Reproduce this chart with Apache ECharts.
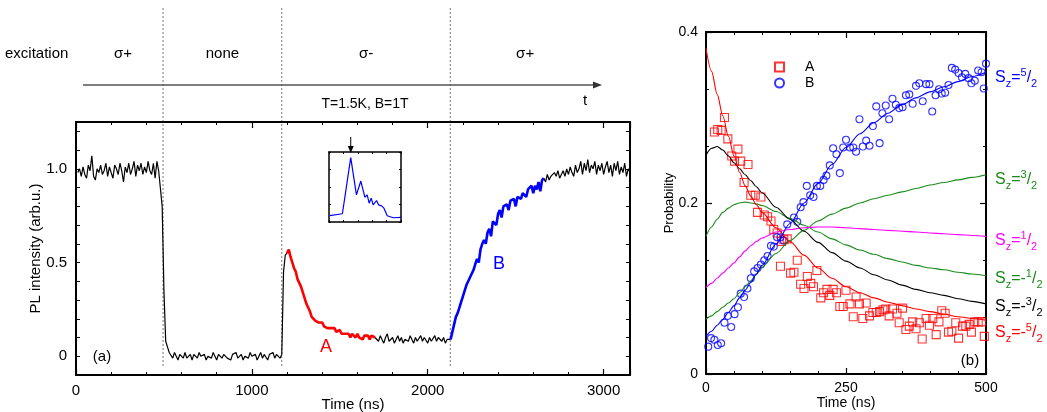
<!DOCTYPE html>
<html><head><meta charset="utf-8">
<script src="https://cdn.jsdelivr.net/npm/echarts@6/dist/echarts.min.js"></script>
<style>html,body{margin:0;padding:0;background:#fff}#c{width:1047px;height:412px}</style>
</head><body><div id="c"></div>
<script>
const FONT = '"Liberation Sans", Arial, Helvetica, sans-serif';

// ---------- Panel (a): PL trace, sampled every 10 ns ----------
const traceStepNs = 10;
const traceBeforeStart = 10;
const traceBefore = [
  0.98,1.00,0.96,1.01,0.97,0.95,1.02,0.99,1.07,0.96,
  0.94,1.00,0.98,1.02,0.97,0.99,1.03,0.96,1.01,0.98,
  0.95,1.02,1.00,0.97,1.03,0.99,0.93,1.01,0.98,1.03,
  0.97,1.00,1.04,0.96,1.02,0.99,1.03,0.97,1.01,0.98,
  1.04,0.99,0.97,1.03,0.95,1.04,0.99,
  1.00,0.80,0.35,0.08,0.05,0.02,
  0.01,-0.01,0.02,0.00,-0.02,0.01,0.00,-0.01,0.02,-0.01,
  0.00,0.01,-0.02,0.01,0.00,-0.01,0.02,0.00,-0.01,0.01,
  -0.02,0.00,0.01,-0.01,0.02,0.00,-0.02,0.01,0.00,-0.01,
  0.01,0.02,-0.01,0.00,-0.02,0.01,0.00,0.02,-0.01,0.00,
  0.01,-0.02,0.00,0.01,-0.01,0.02,0.00,-0.01,0.01,-0.02,
  0.00,0.02,-0.01,0.01,0.00,-0.02,0.01,0.00,0.02,-0.01,
  0.01,0.00,-0.01,0.01,
  0.45,0.54,0.55
];
const traceAStart = 1200;
const traceA = [
  0.55,
  0.57,0.53,0.50,0.47,0.45,0.41,0.40,0.37,0.34,0.31,
  0.28,0.26,0.24,0.21,0.22,0.19,0.20,0.18,0.17,0.18,
  0.16,0.17,0.15,0.16,0.15,0.14,0.15,0.13,0.14,0.14,
  0.12,0.13,0.12,0.11,0.12,0.10,0.12,0.11,0.10,0.12,
  0.10,0.11,0.09,0.11,0.10,0.11,0.09,0.11,0.10,0.10
];
const traceMidStart = 1700;
const traceMid = [
  0.10,
  0.10,0.08,0.11,0.09,0.07,0.10,0.12,0.08,0.09,0.10,
  0.07,0.09,0.11,0.08,0.10,0.07,0.09,0.10,0.08,0.11,
  0.09,0.07,0.10,0.08,0.09,0.11,0.08,0.10,0.09,0.07,
  0.10,0.08,0.09,0.11,0.08,0.10,0.09,0.08,0.10,0.07,
  0.09,0.08,0.09
];
const traceBStart = 2130;
const traceB = [
  0.09,
  0.13,0.17,0.21,0.23,0.26,0.29,0.32,0.35,0.38,0.40,
  0.42,0.43,0.46,0.49,0.52,0.50,0.57,0.60,0.62,0.60,
  0.66,0.68,0.64,0.72,0.73,0.70,0.76,0.78,0.74,0.80,
  0.79,0.81,0.78,0.83,0.82,0.84,0.80,0.85,0.86,0.84,
  0.87,0.88,0.85,0.89,0.88,0.91,0.87,0.91,0.89,0.93,
  0.88,0.94,0.95
];
const traceAfterStart = 2660;
const traceAfter = [
  0.95,
  0.93,0.97,0.94,0.96,0.95,0.98,0.96,0.99,0.95,0.97,
  0.99,0.96,1.00,0.97,1.01,0.98,0.96,1.02,0.98,1.00,
  1.04,0.97,1.03,0.99,1.05,0.98,1.02,1.00,1.04,0.97,
  1.02,0.99,1.03,0.97,1.01,1.04,0.98,1.02,0.96,1.03,
  0.99,1.04,0.97,1.01,0.98,1.03,0.96,1.00,0.98
];
const excitationSwitchNs = [495, 1170, 2128];
const excitationLabels = ['\u03c3+', 'none', '\u03c3-', '\u03c3+'];

// inset (relative units)
const insetX = [0.9,18.6,24.2,30.2,34.4,38.1,44.2,49.8,53,55.8,58.6,61.4,66,68.8,73,76.3,80.9,89.3,100];
const insetY = [0.09,0.118,0.505,0.92,0.637,0.387,0.585,0.354,0.387,0.269,0.34,0.245,0.307,0.245,0.231,0.198,0.09,0.061,0.066];
const insetPeakX = 30.2;

// ---------- Panel (b): probabilities ----------
const probA = [
  [15,0.283],[21,0.286],[27,0.285],[33,0.300],[39,0.275],[46,0.255],[51,0.249],[57,0.263],[62,0.249],[68,0.224],
  [75,0.245],[80,0.209],[88,0.209],[92,0.189],[98,0.207],[104,0.186],[110,0.184],[116,0.179],[121,0.169],[127,0.165],
  [133,0.126],[135,0.155],[139,0.157],[145,0.158],[151,0.118],[157,0.119],[163,0.133],[169,0.105],[175,0.100],[181,0.114],
  [187,0.106],[192,0.102],[198,0.121],[205,0.089],[210,0.095],[216,0.099],[221,0.092],[227,0.099],[233,0.095],[239,0.079],
  [245,0.079],[250,0.098],[257,0.082],[263,0.067],[268,0.090],[274,0.082],[280,0.065],[286,0.083],[292,0.068],[298,0.072],
  [304,0.072],[310,0.073],[316,0.075],[321,0.076],[327,0.068],[333,0.076],[341,0.071],[345,0.060],[351,0.077],[357,0.052],
  [363,0.056],[369,0.061],[375,0.053],[381,0.060],[386,0.041],[393,0.065],[399,0.057],[405,0.065],[411,0.046],[416,0.061],
  [421,0.074],[427,0.071],[433,0.049],[439,0.050],[446,0.060],[451,0.042],[458,0.056],[464,0.056],[470,0.058],[474,0.049],
  [480,0.061],[486,0.061],[492,0.061],[497,0.044]
];
const probB = [
  [4,0.032],[9,0.042],[15,0.040],[21,0.034],[27,0.036],[33,0.060],[39,0.068],[45,0.055],[51,0.070],[57,0.078],
  [62,0.094],[68,0.090],[74,0.100],[80,0.112],[86,0.120],[92,0.124],[98,0.128],[104,0.133],[110,0.138],[116,0.150],
  [121,0.149],[127,0.160],[133,0.160],[139,0.156],[145,0.175],[157,0.183],[163,0.178],[169,0.195],[174,0.201],[180,0.220],
  [186,0.209],[192,0.207],[198,0.220],[204,0.220],[210,0.227],[215,0.232],[221,0.244],[227,0.264],[233,0.257],[239,0.235],
  [245,0.265],[250,0.274],[257,0.265],[263,0.265],[268,0.260],[274,0.298],[280,0.266],[286,0.273],[292,0.267],[298,0.290],
  [304,0.313],[310,0.270],[315,0.305],[321,0.314],[327,0.298],[333,0.322],[339,0.315],[345,0.311],[351,0.312],[357,0.326],
  [363,0.327],[369,0.316],[375,0.337],[381,0.340],[387,0.319],[393,0.339],[399,0.339],[404,0.307],[410,0.326],[416,0.333],
  [421,0.328],[427,0.329],[433,0.338],[439,0.358],[445,0.356],[451,0.352],[457,0.347],[463,0.351],[469,0.346],[474,0.340],
  [480,0.343],[486,0.355],[492,0.353],[496,0.334],[500,0.363]
];
const fitTimes = [0,10,20,30,40,50,60,70,80,90,100,125,150,175,200,225,250,275,300,325,350,375,400,425,450,475,500];
const fitSz52  = [0.044,0.050,0.057,0.064,0.072,0.080,0.089,0.098,0.107,0.117,0.127,0.152,0.176,0.200,0.223,0.245,0.265,0.281,0.294,0.305,0.315,0.323,0.330,0.336,0.342,0.348,0.353];
const fitSz32  = [0.064,0.068,0.073,0.078,0.083,0.088,0.095,0.102,0.109,0.117,0.125,0.141,0.156,0.168,0.179,0.187,0.194,0.200,0.205,0.209,0.213,0.217,0.221,0.224,0.227,0.230,0.233];
const fitSz12  = [0.101,0.106,0.112,0.118,0.124,0.130,0.137,0.144,0.150,0.155,0.159,0.166,0.169,0.171,0.172,0.172,0.171,0.170,0.169,0.168,0.167,0.166,0.165,0.164,0.163,0.162,0.161];
const fitSzm12 = [0.161,0.172,0.181,0.189,0.194,0.198,0.200,0.201,0.200,0.199,0.197,0.190,0.182,0.174,0.166,0.158,0.151,0.145,0.140,0.135,0.131,0.127,0.124,0.122,0.119,0.117,0.115];
const fitSzm32 = [0.256,0.264,0.266,0.262,0.255,0.247,0.240,0.233,0.226,0.219,0.212,0.195,0.181,0.167,0.154,0.142,0.132,0.124,0.116,0.110,0.104,0.099,0.095,0.092,0.088,0.085,0.082];
const fitSzm52 = [0.381,0.354,0.327,0.302,0.278,0.255,0.236,0.220,0.208,0.198,0.189,0.171,0.155,0.139,0.124,0.112,0.102,0.095,0.089,0.084,0.080,0.076,0.073,0.070,0.067,0.065,0.063];

// ---------- helpers ----------
const pairs = (start, arr) => arr.map((v, i) => [start + i * traceStepNs, v]);
const zipT = (ts, vs) => ts.map((t, i) => [t, vs[i]]);

const RED = '#ff0000', BLUE = '#0000ff', GREEN = '#1a8a1a', MAG = '#ff00ff';

function axisBase(extra) {
  return Object.assign({
    type: 'value',
    axisLine: { show: true, onZero: false, lineStyle: { color: '#000', width: 2 } },
    axisTick: { show: true, inside: true, length: 4, lineStyle: { color: '#000', width: 1 } },
    minorTick: { show: false },
    splitLine: { show: false },
    minorSplitLine: { show: false },
    nameMoveOverlap: false,
    axisLabel: { color: '#000', fontFamily: FONT, fontSize: 15, margin: 8 }
  }, extra);
}
const majTick = { show: true, inside: true, length: 6, lineStyle: { color: '#000', width: 1.2 } };
const minTick = n => ({ show: true, splitNumber: n, length: 3, lineStyle: { color: '#000', width: 1 } });

const chart = echarts.init(document.getElementById('c'), null, { renderer: 'canvas' });

const yaFmt = v => { const r = Math.round(v * 100) / 100; return r === 1 ? '1.0' : r === 0.5 ? '0.5' : r === 0 ? '0' : ''; };
const ybFmt = v => { const r = Math.round(v * 1000) / 1000; return r === 0 ? '0' : r === 0.2 ? '0.2' : r === 0.4 ? '0.4' : ''; };

const lineS = (xi, yi, data, color, w, smooth) => ({
  type: 'line', xAxisIndex: xi, yAxisIndex: yi, data: data, showSymbol: false, symbol: 'none',
  smooth: smooth || false, smoothMonotone: smooth ? 'x' : undefined,
  lineStyle: { color: color, width: w }, itemStyle: { color: color }, silent: true, animation: false
});

const inAxis = { show: true, onZero: false, lineStyle: { color: '#000', width: 1.5 } };
const inTick = { show: true, inside: true, length: 2, lineStyle: { color: '#000', width: 1 } };

const option = {
  animation: false,
  backgroundColor: '#fff',
  textStyle: { fontFamily: FONT },
  grid: [
    { left: 76, top: 122, width: 554, height: 253, outerBoundsMode: 'none', containLabel: false },
    { left: 706, top: 32, width: 280, height: 342, outerBoundsMode: 'none', containLabel: false },
    { left: 329, top: 152, width: 72, height: 70, outerBoundsMode: 'none', containLabel: false }
  ],
  xAxis: [
    axisBase({ gridIndex: 0, position: 'bottom', min: 0, max: 3150, interval: 1000,
      axisTick: majTick, minorTick: minTick(5),
      axisLabel: { color: '#000', fontFamily: FONT, fontSize: 15, margin: 8, formatter: v => (v % 1000 === 0 ? String(v) : '') },
      name: 'Time (ns)', nameLocation: 'middle', nameGap: 22, nameTextStyle: { color: '#000', fontFamily: FONT, fontSize: 15 } }),
    axisBase({ gridIndex: 0, position: 'top', min: 0, max: 3150, interval: 1000, axisTick: majTick, minorTick: minTick(5), axisLabel: { show: false } }),
    axisBase({ gridIndex: 1, position: 'bottom', min: 0, max: 500, interval: 250,
      axisTick: majTick, minorTick: minTick(5),
      axisLabel: { color: '#000', fontFamily: FONT, fontSize: 14, margin: 7 },
      name: 'Time (ns)', nameLocation: 'middle', nameGap: 22, nameTextStyle: { color: '#000', fontFamily: FONT, fontSize: 14 } }),
    axisBase({ gridIndex: 1, position: 'top', min: 0, max: 500, interval: 250, axisTick: majTick, minorTick: minTick(5), axisLabel: { show: false } }),
    axisBase({ gridIndex: 2, position: 'bottom', min: 0, max: 100, interval: 20, axisLabel: { show: false }, axisLine: inAxis, axisTick: inTick }),
    axisBase({ gridIndex: 2, position: 'top', min: 0, max: 100, interval: 20, axisLabel: { show: false }, axisLine: inAxis, axisTick: inTick })
  ],
  yAxis: [
    axisBase({ gridIndex: 0, position: 'left', min: -0.1, max: 1.25, interval: 0.1,
      axisLabel: { color: '#000', fontFamily: FONT, fontSize: 15, margin: 9, formatter: yaFmt },
      name: 'PL intensity (arb.u.)', nameLocation: 'middle', nameGap: 33, nameRotate: 90,
      nameTextStyle: { color: '#000', fontFamily: FONT, fontSize: 15 } }),
    axisBase({ gridIndex: 0, position: 'right', min: -0.1, max: 1.25, interval: 0.1, axisLabel: { show: false } }),
    axisBase({ gridIndex: 1, position: 'left', min: 0, max: 0.4, interval: 0.2,
      axisTick: majTick, minorTick: minTick(3),
      axisLabel: { color: '#000', fontFamily: FONT, fontSize: 14, margin: 8, formatter: ybFmt },
      name: 'Probability', nameLocation: 'middle', nameGap: 30, nameRotate: 90,
      nameTextStyle: { color: '#000', fontFamily: FONT, fontSize: 13 } }),
    axisBase({ gridIndex: 1, position: 'right', min: 0, max: 0.4, interval: 0.2, axisTick: majTick, minorTick: minTick(3), axisLabel: { show: false } }),
    axisBase({ gridIndex: 2, position: 'left', min: 0, max: 1, interval: 0.25, axisLabel: { show: false }, axisLine: inAxis, axisTick: inTick }),
    axisBase({ gridIndex: 2, position: 'right', min: 0, max: 1, interval: 0.25, axisLabel: { show: false }, axisLine: inAxis, axisTick: inTick })
  ],
  legend: {
    left: 769, top: 55, orient: 'vertical', itemWidth: 9, itemHeight: 9, itemGap: 2,
    data: ['A', 'B'],
    textStyle: { color: '#000', fontFamily: FONT, fontSize: 14, padding: [0, 0, 0, 16] }
  },
  series: [
    lineS(0, 0, pairs(traceBeforeStart, traceBefore), '#000', 1.2),
    lineS(0, 0, pairs(traceMidStart, traceMid), '#000', 1.2),
    lineS(0, 0, pairs(traceAfterStart, traceAfter), '#000', 1.2),
    lineS(0, 0, pairs(traceAStart, traceA), RED, 2.6),
    lineS(0, 0, pairs(traceBStart, traceB), BLUE, 2.6),
    lineS(4, 4, zipT(insetX, insetY), BLUE, 1.2),
    lineS(2, 2, zipT(fitTimes, fitSz32), GREEN, 1.1, 0.3),
    lineS(2, 2, zipT(fitTimes, fitSzm12), GREEN, 1.1, 0.3),
    lineS(2, 2, zipT(fitTimes, fitSz12), MAG, 1.1, 0.3),
    lineS(2, 2, zipT(fitTimes, fitSzm32), '#000', 1.1, 0.3),
    {
      name: 'A', type: 'scatter', xAxisIndex: 2, yAxisIndex: 2, data: probA, symbol: 'rect', symbolSize: 8,
      itemStyle: { color: 'rgba(255,255,255,0)', borderColor: RED, borderWidth: 1.1 }, silent: true
    },
    {
      name: 'B', type: 'scatter', xAxisIndex: 2, yAxisIndex: 2, data: probB, symbol: 'circle', symbolSize: 7,
      itemStyle: { color: 'rgba(255,255,255,0)', borderColor: BLUE, borderWidth: 1.1 }, silent: true
    },
    lineS(2, 2, zipT(fitTimes, fitSzm52), RED, 1.1, 0.3),
    lineS(2, 2, zipT(fitTimes, fitSz52), BLUE, 1.1, 0.3)
  ]
};
chart.setOption(option);

// ---------- annotations ----------
const g = [];
const txt = (x, y, s, opt) => Object.assign({ type: 'text', x: x, y: y, silent: true,
  style: Object.assign({ text: s, fill: '#000', font: '15px ' + FONT, textAlign: 'center', textVerticalAlign: 'middle' }, opt || {}) });

// dashed switching lines
const swX = excitationSwitchNs.map(t => chart.convertToPixel({ xAxisIndex: 0 }, t));
swX.forEach(x => g.push({ type: 'line', silent: true, shape: { x1: x, y1: 8, x2: x, y2: 366 },
  style: { stroke: '#777', lineWidth: 1, lineDash: [2, 2] } }));

// excitation row
g.push(txt(5, 54, 'excitation', { textAlign: 'left' }));
const bounds = [83].concat(swX).concat([600]);
excitationLabels.forEach((s, i) => g.push(txt((bounds[i] + bounds[i + 1]) / 2, 54, s)));
g.push({ type: 'line', silent: true, shape: { x1: 83, y1: 85, x2: 596, y2: 85 }, style: { stroke: '#555', lineWidth: 1.5 } });
g.push({ type: 'polygon', silent: true, shape: { points: [[602, 85], [593, 81.5], [593, 88.5]] }, style: { fill: '#333' } });
g.push(txt(585, 101, 't'));
g.push(txt(365, 104, 'T=1.5K, B=1T', { font: '14px ' + FONT }));

// panel (a) labels
g.push(txt(102, 357, '(a)'));
g.push(txt(326, 347, 'A', { fill: RED, font: '18px ' + FONT }));
g.push(txt(499, 264, 'B', { fill: BLUE, font: '18px ' + FONT }));

// inset arrow
const ax = chart.convertToPixel({ xAxisIndex: 4 }, insetPeakX);
g.push({ type: 'line', silent: true, shape: { x1: ax, y1: 137, x2: ax, y2: 147 }, style: { stroke: '#000', lineWidth: 1 } });
g.push({ type: 'polygon', silent: true, shape: { points: [[ax, 153], [ax - 3, 146], [ax + 3, 146]] }, style: { fill: '#000' } });

// panel (b) labels
g.push(txt(970, 361, '(b)'));
const szLabels = [
  ['', '5', 78, BLUE], ['', '3', 180, GREEN], ['', '1', 241, MAG],
  ['-', '1', 279, GREEN], ['-', '3', 307, '#000'], ['-', '5', 333, RED]
];
szLabels.forEach(([sign, num, y, col]) => {
  g.push({ type: 'text', x: 995, y: y, silent: true, style: {
    text: '{m|S}{s|z}{m|=' + sign + '}{u|' + num + '}{m|/}{s|2}',
    textAlign: 'left', textVerticalAlign: 'middle', fill: col,
    rich: {
      m: { fontSize: 16, fontFamily: FONT, fill: col, lineHeight: 22, verticalAlign: 'middle' },
      s: { fontSize: 11, fontFamily: FONT, fill: col, lineHeight: 22, verticalAlign: 'bottom' },
      u: { fontSize: 11, fontFamily: FONT, fill: col, lineHeight: 22, verticalAlign: 'top' }
    }
  }});
});

chart.setOption({ graphic: { elements: g } });
</script>
</body></html>
